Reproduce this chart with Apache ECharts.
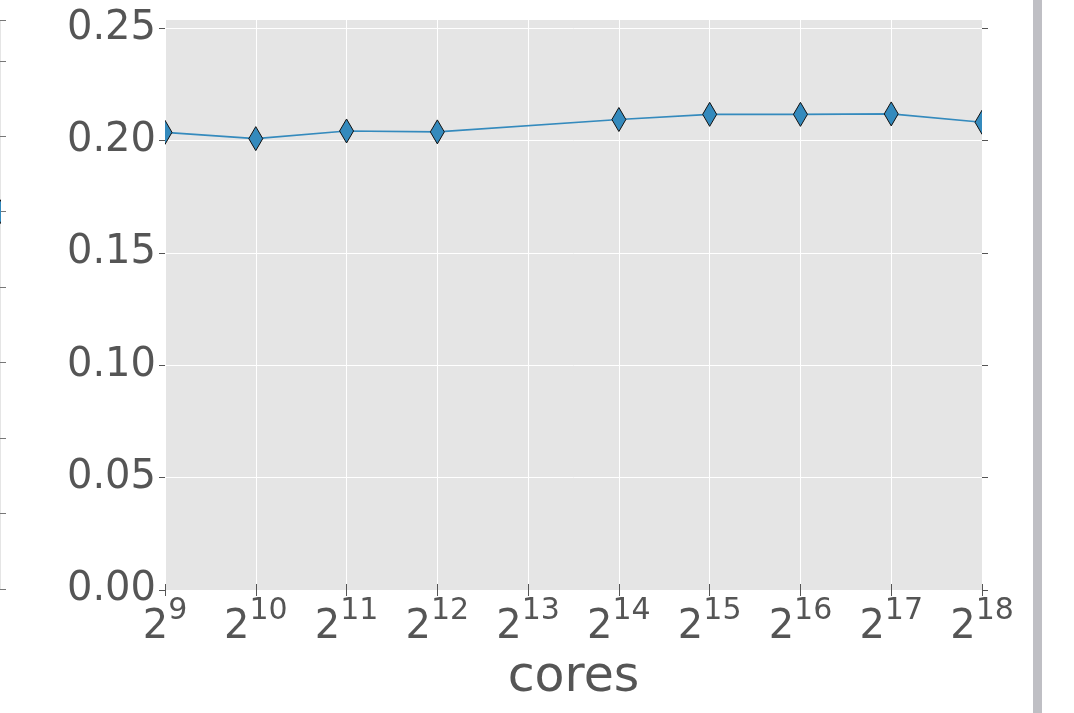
<!DOCTYPE html>
<html>
<head>
<meta charset="utf-8">
<script src="https://cdn.jsdelivr.net/npm/echarts@6/dist/echarts.min.js"></script>
<style>
  html, body { margin: 0; padding: 0; background: #fff; }
  #chart { width: 1074px; height: 713px; }
</style>
</head>
<body>
<div id="chart"></div>
<script>
// Cores used in each run (powers of two) and the measured value for each
const cores = [512, 1024, 2048, 4096, 16384, 32768, 65536, 131072, 262144];
const values = [0.2037, 0.2009, 0.2043, 0.2039, 0.2094, 0.2117, 0.2117, 0.2119, 0.2082];
const yTicks = [0.00, 0.05, 0.10, 0.15, 0.20, 0.25];
const xLabelName = 'cores';

// Right edge of the neighbouring panel: its last point
const neighbourX = [1];
const neighbourY = [5];

const FONT = 'DejaVu Sans';
const TEXT = '#555555';
const BLUE = '#348ABD';

const mainData = cores.map((c, i) => [c, values[i]]);
const neighbourData = neighbourX.map((x, i) => [x, neighbourY[i]]);

function diamond(params, api) {
  const p = api.coord([api.value(0), api.value(1)]);
  const hw = 7, hh = 12;
  return {
    type: 'polygon',
    shape: { points: [[p[0], p[1] - hh], [p[0] + hw, p[1]], [p[0], p[1] + hh], [p[0] - hw, p[1]]] },
    style: { fill: BLUE, stroke: '#111111', lineWidth: 1 }
  };
}

const chart = echarts.init(document.getElementById('chart'), null, { renderer: 'canvas' });

const tickStyle = { show: true, inside: false, length: 6, lineStyle: { color: TEXT, width: 1 } };

chart.setOption({
  animation: false,
  backgroundColor: '#ffffff',
  textStyle: { fontFamily: FONT },
  grid: [
    { left: 165, right: 92, top: 20, bottom: 123, show: true, backgroundColor: '#e5e5e5', borderWidth: 0, outerBoundsMode: 'none', containLabel: false },
    { left: 0, width: 1, top: 20, bottom: 124, show: true, backgroundColor: '#e5e5e5', borderWidth: 0, outerBoundsMode: 'none', containLabel: false }
  ],
  xAxis: [
    {
      gridIndex: 0, type: 'log', logBase: 2, min: 512, max: 262144, interval: 1,
      axisLine: { show: false },
      axisTick: tickStyle,
      splitLine: { show: true, lineStyle: { color: '#ffffff', width: 1 } },
      axisLabel: {
        margin: 15,
        formatter: v => '{b|2}{s|' + Math.round(Math.log2(v)) + '}',
        rich: {
          b: { fontFamily: FONT, fontSize: 40, color: TEXT, lineHeight: 46 },
          s: { fontFamily: FONT, fontSize: 30, color: TEXT, lineHeight: 12, padding: [0, 0, 34, 0] }
        }
      },
      name: xLabelName, nameLocation: 'middle', nameGap: 64, nameMoveOverlap: false,
      nameTextStyle: { fontFamily: FONT, fontSize: 49, color: TEXT }
    },
    {
      gridIndex: 0, type: 'log', logBase: 2, min: 512, max: 262144, interval: 1, position: 'top',
      axisLine: { show: false }, axisTick: tickStyle, axisLabel: { show: false }, splitLine: { show: false }
    },
    {
      gridIndex: 1, type: 'value', min: 0, max: 1,
      axisLine: { show: false }, axisTick: { show: false }, axisLabel: { show: false }, splitLine: { show: false }
    }
  ],
  yAxis: [
    {
      gridIndex: 0, type: 'value', min: 0, max: 0.2537, interval: 0.05,
      axisLine: { show: false },
      axisTick: Object.assign({}, tickStyle, { customValues: yTicks }),
      splitLine: { show: true, lineStyle: { color: '#ffffff', width: 1 } },
      axisLabel: {
        customValues: yTicks,
        margin: 9, fontFamily: FONT, fontSize: 40, color: TEXT,
        formatter: v => v.toFixed(2)
      }
    },
    {
      gridIndex: 0, type: 'value', min: 0, max: 0.2537, interval: 0.05, position: 'right',
      axisLine: { show: false },
      axisTick: Object.assign({}, tickStyle, { customValues: yTicks }),
      axisLabel: { show: false }, splitLine: { show: false }
    },
    {
      gridIndex: 1, type: 'value', min: 0, max: 7.54, interval: 1, position: 'right',
      axisLine: { show: false },
      axisTick: { show: true, inside: false, length: 6, lineStyle: { color: '#777777', width: 1 } },
      axisLabel: { show: false }, splitLine: { show: false }
    }
  ],
  series: [
    {
      type: 'line', xAxisIndex: 0, yAxisIndex: 0, data: mainData,
      symbol: 'none', lineStyle: { color: BLUE, width: 1.6 }, clip: true, z: 3
    },
    {
      type: 'custom', xAxisIndex: 0, yAxisIndex: 0, data: mainData,
      renderItem: diamond, clip: true, z: 4
    },
    {
      type: 'custom', xAxisIndex: 2, yAxisIndex: 2, data: neighbourData,
      renderItem: diamond, clip: true, z: 4
    }
  ],
  graphic: [
    { type: 'rect', left: 1033, top: 0, shape: { width: 9, height: 713 }, style: { fill: '#bfbfc4' }, silent: true }
  ]
});
</script>
</body>
</html>
